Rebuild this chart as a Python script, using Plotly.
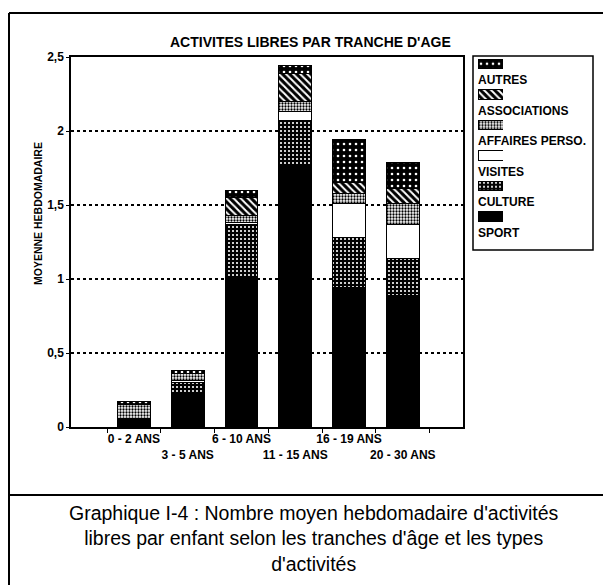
import plotly.graph_objects as go

# weekly mean of free-time activities per child
age_groups = ["0 - 2 ANS", "3 - 5 ANS", "6 - 10 ANS", "11 - 15 ANS", "16 - 19 ANS", "20 - 30 ANS"]

sport = [0.06, 0.22, 1.01, 1.76, 0.94, 0.89]
culture = [0.00, 0.08, 0.36, 0.31, 0.34, 0.25]
visites = [0.00, 0.015, 0.01, 0.065, 0.23, 0.23]
affaires_perso = [0.09, 0.045, 0.05, 0.065, 0.07, 0.14]
associations = [0.00, 0.00, 0.12, 0.19, 0.07, 0.10]
autres = [0.02, 0.02, 0.05, 0.05, 0.29, 0.18]

series = [
    ("SPORT", sport),
    ("CULTURE", culture),
    ("VISITES", visites),
    ("AFFAIRES PERSO.", affaires_perso),
    ("ASSOCIATIONS", associations),
    ("AUTRES", autres),
]

TITLE = "ACTIVITES LIBRES PAR TRANCHE D'AGE"
Y_TITLE = "MOYENNE HEBDOMADAIRE"
CAPTION = ("Graphique I-4 : Nombre moyen hebdomadaire d'activités<br>"
           "libres par enfant selon les tranches d'âge et les types<br>"
           "d'activités")

# black & white print fills, one per activity
patterns = {
    "SPORT": dict(shape="", bgcolor="black", fgcolor="black"),
    "CULTURE": dict(shape=".", bgcolor="black", fgcolor="white", size=4, solidity=0.22),
    "VISITES": dict(shape="", bgcolor="white", fgcolor="white"),
    "AFFAIRES PERSO.": dict(shape=".", bgcolor="white", fgcolor="black", size=3, solidity=0.45),
    "ASSOCIATIONS": dict(shape="\\", bgcolor="black", fgcolor="white", size=5, solidity=0.4),
    "AUTRES": dict(shape=".", bgcolor="black", fgcolor="white", size=6, solidity=0.15),
}
base_color = {"VISITES": "white"}

FONT = "Liberation Sans, Arial, sans-serif"
W, H = 603, 585
L, R, T, B = 71, 0, 40, 158
AW, AH = W - L - R, H - T - B


def px(x):
    return (x - L) / AW


def py(y):
    return (H - B - y) / AH


fig = go.Figure()

for name, vals in series:
    fig.add_trace(go.Bar(
        x=age_groups, y=vals, name=name, width=0.61,
        marker=dict(color=base_color.get(name, "black"),
                    line=dict(color="black", width=1),
                    pattern=dict(fillmode="replace", **patterns[name])),
        showlegend=False,
    ))

# hand-built legend: swatch above label, like the original
legend_order = [name for name, _ in reversed(series)]
for name in legend_order:
    fig.add_trace(go.Bar(
        x=[1], y=[name], orientation="h", width=0.3, xaxis="x2", yaxis="y2",
        marker=dict(color=base_color.get(name, "black"),
                    line=dict(color="black", width=1),
                    pattern=dict(fillmode="replace", **patterns[name])),
        showlegend=False, hoverinfo="skip",
    ))

slot = 30.5
first = 64
for k, name in enumerate(legend_order):
    fig.add_annotation(xref="paper", yref="paper", x=px(476), y=py(first + 16 + k * slot),
                       text=name, showarrow=False, xanchor="left", yanchor="middle",
                       font=dict(family=FONT, size=12, color="black", weight="bold"))

fig.add_annotation(xref="paper", yref="paper", x=px(310), y=py(42), text=TITLE,
                   showarrow=False, xanchor="center", yanchor="middle",
                   font=dict(family=FONT, size=14, color="black", weight="bold"))
fig.add_annotation(xref="paper", yref="paper", x=px(38), y=py(214), text=Y_TITLE,
                   showarrow=False, textangle=-90, xanchor="center", yanchor="middle",
                   font=dict(family=FONT, size=10.5, color="black", weight="bold"))
fig.add_annotation(xref="paper", yref="paper", x=px(314), y=py(538), text=CAPTION,
                   showarrow=False, xanchor="center", yanchor="middle",
                   font=dict(family=FONT, size=19.5, color="black"))

# page frame, legend box, caption separator
frame = dict(xref="paper", yref="paper", line=dict(color="black", width=2))
fig.add_shape(type="line", x0=px(9), x1=px(9), y0=py(13), y1=py(585), **frame)
fig.add_shape(type="line", x0=px(9), x1=px(603), y0=py(13), y1=py(13), **frame)
fig.add_shape(type="line", x0=px(9), x1=px(603), y0=py(495), y1=py(495), **frame)
fig.add_shape(type="rect", x0=px(473), x1=px(593), y0=py(56), y1=py(250),
              xref="paper", yref="paper", line=dict(color="black", width=1.5))

ticktext = [g if i % 2 == 0 else "<br>" + g for i, g in enumerate(age_groups)]

fig.update_layout(
    width=W, height=H, barmode="stack", separators=", ",
    paper_bgcolor="white", plot_bgcolor="white",
    margin=dict(l=L, r=R, t=T, b=B),
    font=dict(family=FONT, color="black"),
    xaxis=dict(domain=[0, px(463)], type="category", categoryorder="array",
               categoryarray=age_groups, range=[-1.17, 6.12],
               tickvals=age_groups, ticktext=ticktext, tickson="boundaries",
               tickangle=0, ticks="outside", ticklen=4, tickcolor="black",
               showline=True, mirror=True, linecolor="black", linewidth=1.5,
               showgrid=False, tickfont=dict(size=12, weight="bold")),
    yaxis=dict(domain=[0, py(57)], range=[0, 2.5], dtick=0.5,
               ticks="outside", ticklen=3, tickcolor="black",
               showline=True, mirror=True, linecolor="black", linewidth=1.5,
               showgrid=True, gridcolor="black", griddash="dot", gridwidth=1.5,
               zeroline=False, tickfont=dict(size=12, weight="bold")),
    xaxis2=dict(domain=[px(478), px(503)], anchor="y2", range=[0, 1], visible=False),
    yaxis2=dict(domain=[py(first + 5 * slot + slot / 2), py(first - slot / 2)], anchor="x2",
                type="category", categoryorder="array", categoryarray=legend_order,
                range=[5.5, -0.5], visible=False),
)

# the page's default 8px body margin would shift the whole figure
fig.write_html("out.html", config={"displayModeBar": False},
               post_script="document.body.style.margin = '0';")
